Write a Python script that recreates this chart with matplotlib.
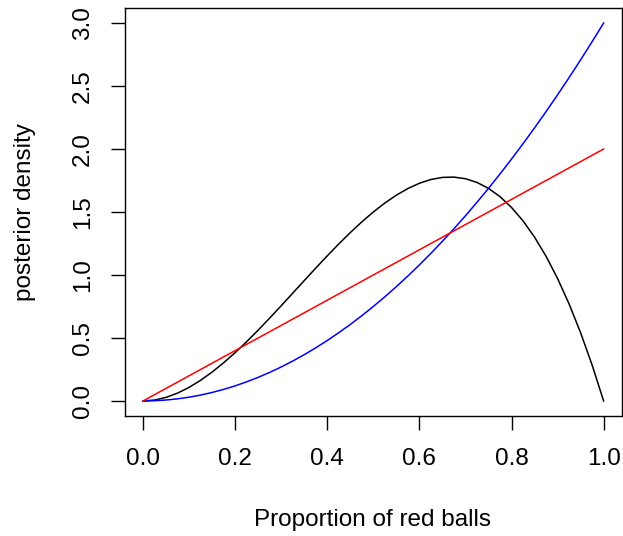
import matplotlib.pyplot as plt

plt.rcParams['font.family'] = ['Liberation Sans', 'DejaVu Sans']

# proportion of red balls
p = [0.0, 0.025, 0.05, 0.075, 0.1, 0.125, 0.15, 0.175, 0.2, 0.225,
     0.25, 0.275, 0.3, 0.325, 0.35, 0.375, 0.4, 0.425, 0.45, 0.475,
     0.5, 0.525, 0.55, 0.575, 0.6, 0.625, 0.65, 0.675, 0.7, 0.725,
     0.75, 0.775, 0.8, 0.825, 0.85, 0.875, 0.9, 0.925, 0.95, 0.975, 1.0]

# posterior densities
black_post = [0.0, 0.0073, 0.0285, 0.0624, 0.108, 0.1641, 0.2295, 0.3032, 0.384, 0.4708,
              0.5625, 0.6579, 0.756, 0.8556, 0.9555, 1.0547, 1.152, 1.2463, 1.3365, 1.4214,
              1.5, 1.5711, 1.6335, 1.6862, 1.728, 1.7578, 1.7745, 1.7769, 1.764, 1.7346,
              1.6875, 1.6217, 1.536, 1.4293, 1.3005, 1.1484, 0.972, 0.7701, 0.5415, 0.2852, 0.0]
blue_post = [0.0, 0.0019, 0.0075, 0.0169, 0.03, 0.0469, 0.0675, 0.0919, 0.12, 0.1519,
             0.1875, 0.2269, 0.27, 0.3169, 0.3675, 0.4219, 0.48, 0.5419, 0.6075, 0.6769,
             0.75, 0.8269, 0.9075, 0.9919, 1.08, 1.1719, 1.2675, 1.3669, 1.47, 1.5769,
             1.6875, 1.8019, 1.92, 2.0419, 2.1675, 2.2969, 2.43, 2.5669, 2.7075, 2.8519, 3.0]
red_post = [0.0, 0.05, 0.1, 0.15, 0.2, 0.25, 0.3, 0.35, 0.4, 0.45,
            0.5, 0.55, 0.6, 0.65, 0.7, 0.75, 0.8, 0.85, 0.9, 0.95,
            1.0, 1.05, 1.1, 1.15, 1.2, 1.25, 1.3, 1.35, 1.4, 1.45,
            1.5, 1.55, 1.6, 1.65, 1.7, 1.75, 1.8, 1.85, 1.9, 1.95, 2.0]

xticks = [0.0, 0.2, 0.4, 0.6, 0.8, 1.0]
yticks = [0.0, 0.5, 1.0, 1.5, 2.0, 2.5, 3.0]


def main():
    fig = plt.figure(figsize=(6.23, 5.36), dpi=100)
    ax = fig.add_axes([0.2, 0.2237, 0.7985, 0.7616])

    ax.plot(p, black_post, color='black', lw=1.1)
    ax.plot(p, blue_post, color='blue', lw=1.1)
    ax.plot(p, red_post, color='red', lw=1.1)

    ax.set_xlim(-0.04, 1.04)
    ax.set_ylim(-0.12, 3.12)
    ax.set_xticks(xticks)
    ax.set_xticklabels(['%.1f' % v for v in xticks])
    ax.set_yticks(yticks)
    ax.set_yticklabels(['%.1f' % v for v in yticks], rotation=90, va='center')
    ax.tick_params(axis='both', direction='out', length=10, width=1.0, labelsize=17.5)
    ax.tick_params(axis='x', pad=13)
    ax.tick_params(axis='y', pad=12)
    for s in ax.spines.values():
        s.set_linewidth(1.0)

    fig.text(0.5985, 1 - 520 / 536, 'Proportion of red balls', ha='center', va='center',
             fontsize=17.5)
    fig.text(25 / 623, 0.6045, 'posterior density', rotation=90, ha='center', va='center',
             fontsize=17.5)

    fig.savefig('out.png', dpi=100)


if __name__ == "__main__":
    main()
